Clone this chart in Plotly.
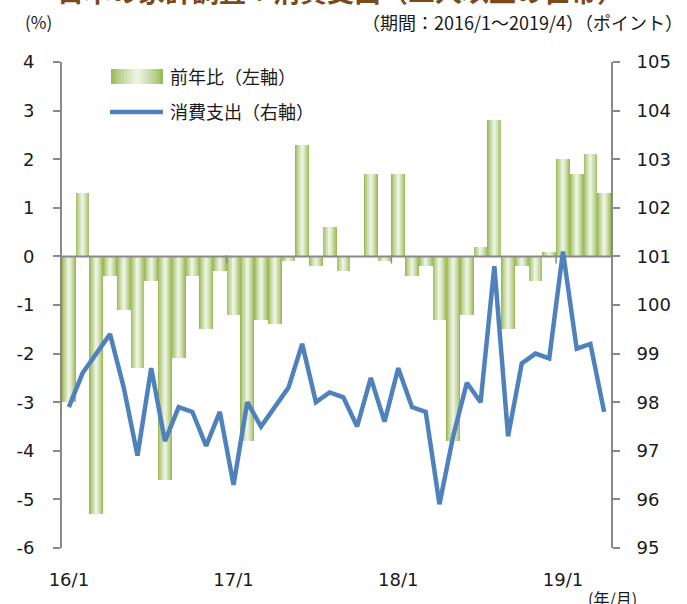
import plotly.graph_objects as go

# ---------------- data ----------------
months = [f"{y}/{m}" for y in (16, 17, 18, 19) for m in range(1, 13)][:40]
tick_labels = ["16/1", "17/1", "18/1", "19/1"]

yoy = [-3.0, 1.3, -5.3, -0.4, -1.1, -2.3, -0.5, -4.6, -2.1, -0.4, -1.5, -0.3,
       -1.2, -3.8, -1.3, -1.4, -0.1, 2.3, -0.2, 0.6, -0.3, 0.0, 1.7, -0.1,
       1.7, -0.4, -0.2, -1.3, -3.8, -1.2, 0.2, 2.8, -1.5, -0.2, -0.5, 0.1,
       2.0, 1.7, 2.1, 1.3]

spending = [97.9, 98.6, 99.0, 99.4, 98.3, 96.9, 98.7, 97.2, 97.9, 97.8, 97.1, 97.8,
            96.3, 98.0, 97.5, 97.9, 98.3, 99.2, 98.0, 98.2, 98.1, 97.5, 98.5, 97.6,
            98.7, 97.9, 97.8, 95.9, 97.3, 98.4, 98.0, 100.8, 97.3, 98.8, 99.0, 98.9,
            101.1, 99.1, 99.2, 97.8]

left_ticks = [4, 3, 2, 1, 0, -1, -2, -3, -4, -5, -6]
right_ticks = [105, 104, 103, 102, 101, 100, 99, 98, 97, 96, 95]

# ---------------- styling ----------------
W, H = 687, 604
L, R, T, B = 62, 611, 62, 548
DARK = (155, 187, 89)
LIGHT = (236, 242, 224)
BLUE = "#4F81BD"
AXIS = "#898989"
NUM_FONT = "Verdana, 'DejaVu Sans', sans-serif"
JP_FONT = "'Noto Sans CJK JP', 'Noto Sans', sans-serif"
TXT = "#1a1a1a"


def mix(t):
    c = [round(DARK[j] + (LIGHT[j] - DARK[j]) * t) for j in range(3)]
    return f"rgb({c[0]},{c[1]},{c[2]})"


def px(xp):
    return (xp - L) / (R - L)


def py(yp):
    return (B - yp) / (B - T)


x_idx = list(range(len(months)))
tickvals = [months.index(t) for t in tick_labels]

fig = go.Figure()

# gradient bars: nested, progressively narrower and lighter bars
K = 10
for k in range(K):
    w = 1.0 - k / K
    t = (k / (K - 1)) ** 0.8
    fig.add_trace(go.Bar(
        x=x_idx, y=yoy, width=w, marker=dict(color=mix(t), line=dict(width=0)),
        showlegend=False, hoverinfo="skip", yaxis="y"))

# category axis line at zero (drawn over bars)
xr = [-0.5, len(months) - 0.5]
fig.add_trace(go.Scatter(x=xr, y=[0, 0], mode="lines",
                         line=dict(color=AXIS, width=2),
                         showlegend=False, hoverinfo="skip", yaxis="y"))
# year boundary tick marks on the zero line
fig.add_trace(go.Scatter(x=[v - 0.5 for v in tickvals[1:]], y=[-0.06] * 3,
                         mode="markers",
                         marker=dict(symbol="line-ns", size=6,
                                     line=dict(color=AXIS, width=1.5)),
                         showlegend=False, hoverinfo="skip", yaxis="y"))

# line on right axis
fig.add_trace(go.Scatter(x=x_idx, y=spending, mode="lines",
                         line=dict(color=BLUE, width=4.5),
                         showlegend=False, hoverinfo="skip", yaxis="y2"))

shapes = []
# legend gradient swatch (nested rects)
lx0, lx1, ly0, ly1 = 111, 163, 69, 84
for k in range(K):
    f = k / K
    half = (lx1 - lx0) / 2 * (1 - f)
    cx = (lx0 + lx1) / 2
    shapes.append(dict(type="rect", xref="paper", yref="paper",
                       x0=px(cx - half), x1=px(cx + half), y0=py(ly1), y1=py(ly0),
                       fillcolor=mix((k / (K - 1)) ** 0.8), line=dict(width=0),
                       layer="above"))
shapes.append(dict(type="line", xref="paper", yref="paper",
                   x0=px(110), x1=px(163), y0=py(112), y1=py(112),
                   line=dict(color=BLUE, width=4.5), layer="above"))

annotations = [
    dict(text="前年比（左軸）", x=px(168), y=py(76), xref="paper", yref="paper",
         xanchor="left", yanchor="middle", showarrow=False,
         font=dict(family=JP_FONT, size=18, color=TXT)),
    dict(text="消費支出（右軸）", x=px(168), y=py(111), xref="paper", yref="paper",
         xanchor="left", yanchor="middle", showarrow=False,
         font=dict(family=JP_FONT, size=18, color=TXT)),
    dict(text="(%)", x=px(38), y=py(22), xref="paper", yref="paper",
         xanchor="center", yanchor="middle", showarrow=False,
         font=dict(family=JP_FONT, size=17, color=TXT)),
    dict(text="（期間：2016/1～2019/4）（ポイント）", x=px(685), y=py(22),
         xref="paper", yref="paper", xanchor="right", yanchor="middle",
         showarrow=False, font=dict(family=JP_FONT, size=18, color=TXT)),
    dict(text="(年/月)", x=px(612), y=py(598), xref="paper", yref="paper",
         xanchor="center", yanchor="middle", showarrow=False,
         font=dict(family=JP_FONT, size=16, color=TXT)),
    dict(text="<b>日本の家計調査：消費支出（二人以上の世帯）</b>", x=px(340), y=py(-10),
         xref="paper", yref="paper", xanchor="center", yanchor="middle",
         showarrow=False, font=dict(family=JP_FONT, size=27, color="#7B4A1A")),
]

fig.update_layout(
    width=W, height=H,
    margin=dict(l=L, r=W - R, t=T, b=H - B, pad=0),
    paper_bgcolor="white", plot_bgcolor="white",
    barmode="overlay", bargap=0,
    showlegend=False,
    shapes=shapes, annotations=annotations,
    xaxis=dict(range=xr, tickvals=tickvals, ticktext=tick_labels,
               showline=False, showgrid=False, zeroline=False,
               ticks="", ticklabelstandoff=19,
               tickfont=dict(family=NUM_FONT, size=18, color=TXT)),
    yaxis=dict(range=[-6, 4], tickvals=left_ticks,
               ticktext=[str(v) for v in left_ticks],
               showline=True, linecolor=AXIS, linewidth=2,
               ticks="outside", ticklen=7, tickwidth=1.5, tickcolor=AXIS,
               showgrid=False, zeroline=False, ticklabelstandoff=15,
               tickfont=dict(family=NUM_FONT, size=18, color=TXT)),
    yaxis2=dict(range=[95, 105], tickvals=right_ticks,
                ticktext=[str(v) for v in right_ticks],
                overlaying="y", side="right",
                showline=True, linecolor=AXIS, linewidth=2,
                ticks="outside", ticklen=7, tickwidth=1.5, tickcolor=AXIS,
                showgrid=False, zeroline=False, ticklabelstandoff=13,
                tickfont=dict(family=NUM_FONT, size=18, color=TXT)),
)

fig.write_html("out.html", config={"displayModeBar": False},
               post_script="document.body.style.margin='0px';document.body.style.overflow='hidden';")
